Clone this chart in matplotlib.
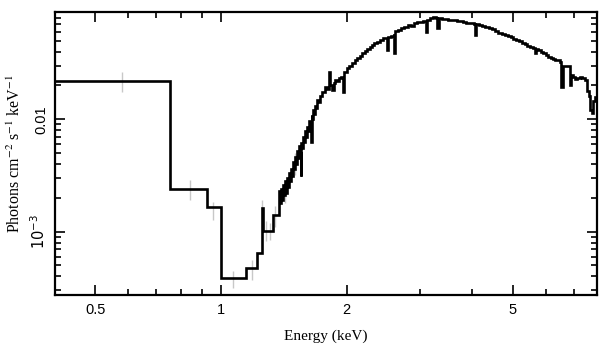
import matplotlib
matplotlib.use('Agg')
import matplotlib.pyplot as plt
from matplotlib.ticker import FixedLocator, FixedFormatter, LogLocator, NullFormatter

# model spectrum: bin edges (keV) and flux per bin (photons cm^-2 s^-1 keV^-1)
edges = [0.40, 0.755, 0.924, 1.0, 1.148, 1.218, 1.251, 1.257, 1.334,
         1.378, 1.386, 1.394, 1.402, 1.410, 1.418, 1.426, 1.434, 1.442, 1.450,
         1.458, 1.466, 1.474, 1.482, 1.490, 1.498, 1.506, 1.514, 1.522, 1.530,
         1.538, 1.546, 1.552, 1.558, 1.566, 1.574, 1.582, 1.590, 1.598, 1.606,
         1.614, 1.622, 1.630, 1.640, 1.648, 1.656, 1.664, 1.672, 1.680, 1.688,
         1.695, 1.71, 1.73, 1.75, 1.77, 1.79, 1.81, 1.82, 1.84,
         1.86, 1.88, 1.90, 1.92, 1.94, 1.96, 1.975, 2.00, 2.03, 2.06,
         2.09, 2.12, 2.15, 2.18, 2.21, 2.24, 2.27, 2.30, 2.33, 2.36,
         2.40, 2.44, 2.48, 2.50, 2.515, 2.55, 2.59, 2.60, 2.615, 2.65,
         2.70, 2.75, 2.80, 2.85, 2.90, 2.95, 3.00, 3.05, 3.09, 3.11,
         3.16, 3.22, 3.28, 3.30, 3.325, 3.38, 3.44, 3.50, 3.56, 3.62,
         3.68, 3.74, 3.80, 3.86, 3.92, 3.98, 4.04, 4.07, 4.09, 4.15,
         4.22, 4.30, 4.38, 4.46, 4.54, 4.62, 4.70, 4.78, 4.86, 4.94,
         5.02, 5.10, 5.18, 5.26, 5.34, 5.42, 5.50, 5.58, 5.64, 5.68,
         5.76, 5.84, 5.92, 6.00, 6.08, 6.16, 6.24, 6.32, 6.40, 6.48,
         6.52, 6.58, 6.84, 6.90, 6.98, 7.06, 7.14, 7.24, 7.34, 7.44,
         7.52, 7.60, 7.66, 7.74, 7.80, 7.88, 7.95]
flux = [0.022, 2.4e-3, 1.65e-3, 3.85e-4, 4.72e-4, 6.42e-4, 1.62e-3, 1.02e-3, 1.4e-3,
        2.3e-3, 1.8e-3, 2.4e-3, 1.9e-3, 2.6e-3, 2.1e-3, 2.8e-3, 2.2e-3, 3.0e-3, 2.5e-3,
        3.3e-3, 2.8e-3, 3.6e-3, 3.1e-3, 4.2e-3, 3.6e-3, 4.6e-3, 4.0e-3, 5.2e-3, 4.5e-3,
        5.8e-3, 5.0e-3, 3.1e-3, 6.2e-3, 5.6e-3, 7.0e-3, 6.3e-3, 7.8e-3, 7.0e-3, 8.6e-3,
        7.8e-3, 9.6e-3, 8.8e-3, 6.3e-3, 0.0108, 0.0100, 0.0120, 0.0112, 0.0132, 0.0125,
        0.0149, 0.0143, 0.0162, 0.0175, 0.0195, 0.0186, 0.0265, 0.0200,
        0.0182, 0.0212, 0.0224, 0.0218, 0.0232, 0.0239, 0.0176, 0.0262, 0.0284, 0.0300,
        0.0318, 0.0337, 0.0352, 0.0368, 0.0386, 0.0405, 0.0420, 0.0443, 0.0458, 0.0478,
        0.0490, 0.0512, 0.0525, 0.0530, 0.0414, 0.0543, 0.0552, 0.0568, 0.0386, 0.0610,
        0.0625, 0.0645, 0.0660, 0.0690, 0.0680, 0.0715, 0.0738, 0.0730, 0.0750, 0.0600,
        0.0765, 0.0790, 0.0807, 0.0790, 0.0645, 0.0795, 0.0776, 0.0785, 0.0770, 0.0766,
        0.0760, 0.0748, 0.0745, 0.0738, 0.0725, 0.0712, 0.0715, 0.0700, 0.0562, 0.0700,
        0.0690, 0.0675, 0.0660, 0.0645, 0.0630, 0.0610, 0.0590, 0.0575, 0.0560, 0.0548,
        0.0535, 0.0522, 0.0510, 0.0498, 0.0480, 0.0465, 0.0450, 0.0440, 0.0430, 0.0390,
        0.0425, 0.0414, 0.0400, 0.0385, 0.0370, 0.0358, 0.0350, 0.0345, 0.0340, 0.0337,
        0.0320, 0.0195, 0.0300, 0.0200, 0.0248, 0.0240, 0.0228, 0.0235, 0.0240, 0.0234,
        0.0225, 0.0180, 0.0160, 0.0120, 0.0113, 0.0145, 0.0158]

# data points (grey error bars)
data_e = [0.578, 0.843, 0.958, 1.07, 1.184, 1.25, 1.28, 1.31, 1.35, 1.42, 1.50]
data_lo = [0.0174, 1.91e-3, 1.27e-3, 3.15e-4, 3.7e-4, 1.3e-3, 8.2e-4, 8.4e-4, 1.1e-3, 1.8e-3, 3.2e-3]
data_hi = [0.0265, 2.9e-3, 1.85e-3, 4.5e-4, 5.6e-4, 1.9e-3, 1.25e-3, 1.2e-3, 1.7e-3, 2.9e-3, 5.0e-3]

fig = plt.figure(figsize=(6.09, 3.57), dpi=100)
ax = fig.add_axes([0.0903, 0.1737, 0.8897, 0.7927])

ax.vlines(data_e, data_lo, data_hi, color='#c8c8c8', linewidth=1.0, zorder=1)
ax.stairs(flux, edges, baseline=None, color='black', linewidth=1.9, zorder=2)

ax.set_xscale('log')
ax.set_yscale('log')
ax.set_xlim(0.40, 7.95)
ax.set_ylim(2.73e-4, 0.09)

ax.xaxis.set_major_locator(FixedLocator([0.5, 1, 2, 5]))
ax.xaxis.set_major_formatter(FixedFormatter(['0.5', '1', '2', '5']))
ax.xaxis.set_minor_locator(LogLocator(base=10, subs=range(2, 10)))
ax.xaxis.set_minor_formatter(NullFormatter())
ax.yaxis.set_major_locator(FixedLocator([1e-3, 1e-2]))
ax.yaxis.set_major_formatter(FixedFormatter([r'$10^{-3}$', '0.01']))
ax.yaxis.set_minor_locator(LogLocator(base=10, subs=range(2, 10)))
ax.yaxis.set_minor_formatter(NullFormatter())

ax.tick_params(which='both', direction='in', top=True, right=True, width=1.2,
               labelsize=10.5)
ax.tick_params(which='major', length=7)
ax.tick_params(which='minor', length=4.5)
ax.tick_params(axis='x', pad=6)
ax.tick_params(axis='y', pad=5)
for lbl in ax.get_xticklabels() + ax.get_yticklabels():
    lbl.set_fontfamily('Liberation Sans')
for lbl in ax.get_yticklabels():
    lbl.set_rotation(90)
    lbl.set_va('center')
for s in ax.spines.values():
    s.set_linewidth(1.6)

ax.set_xlabel('Energy (keV)', family='Liberation Serif', fontsize=11, labelpad=9)
ax.set_ylabel(r'Photons cm$^{-2}$ s$^{-1}$ keV$^{-1}$', family='Liberation Serif',
              fontsize=11.5, labelpad=4, math_fontfamily='stix')

fig.savefig('out.png', dpi=100)
